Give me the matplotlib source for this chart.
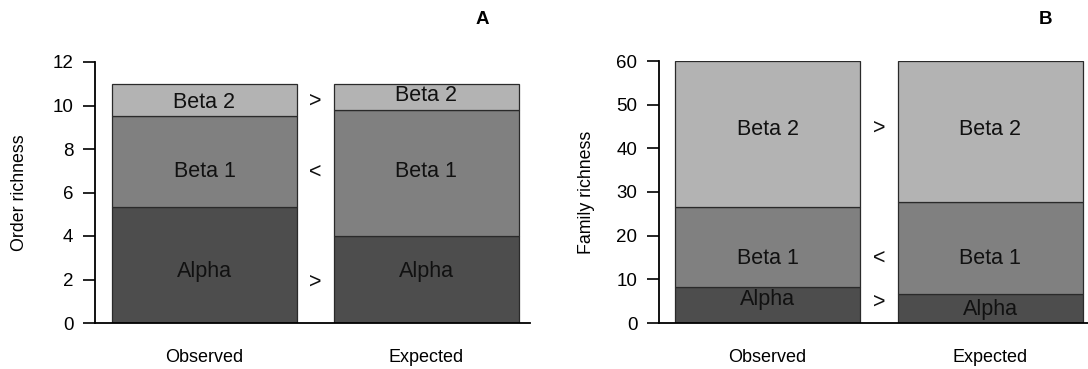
import matplotlib
matplotlib.use("Agg")
import matplotlib.pyplot as plt

plt.rcParams['font.family'] = ['Liberation Sans', 'DejaVu Sans']

groups = ["Observed", "Expected"]
components = ["Alpha", "Beta 1", "Beta 2"]

# Panel A: order richness (component values, stacked)
order_alpha = [5.33, 4.0]
order_beta1 = [4.17, 5.8]
order_beta2 = [1.5, 1.2]

# Panel B: family richness
family_alpha = [8.2, 6.6]
family_beta1 = [18.4, 21.0]
family_beta2 = [33.4, 32.4]

order_signs = [">", "<", ">"]       # alpha, beta1, beta2
family_signs = [">", "<", ">"]

# label heights (data units) as placed in the original figure
order_label_y = {"Observed": [2.35, 6.95, 10.16], "Expected": [2.35, 6.95, 10.45]}
order_sign_y = [1.9, 6.95, 10.2]
family_label_y = {"Observed": [5.3, 14.7, 44.4], "Expected": [3.2, 14.7, 44.4]}
family_sign_y = [4.8, 14.9, 44.6]

colors = ["#4d4d4d", "#808080", "#b3b3b3"]

W, H = 1088, 369
fig = plt.figure(figsize=(W / 100, H / 100), dpi=100)


def panel(rect, xlim, ylim, yticks, alpha, beta1, beta2, label_y, signs, sign_y, ylabel, letter, letter_x, ylab_x):
    ax = fig.add_axes(rect)
    xs = [0, 1.2]
    vals = [alpha, beta1, beta2]
    bottoms = [0, 0]
    for comp_vals, col in zip(vals, colors):
        ax.bar(xs, comp_vals, width=1.0, bottom=bottoms, color=col,
               edgecolor="#2a2a2a", linewidth=0.9, zorder=2)
        bottoms = [b + v for b, v in zip(bottoms, comp_vals)]
    for gi, g in enumerate(groups):
        for ci, comp in enumerate(components):
            ax.text(xs[gi], label_y[g][ci], comp, ha="center", va="center",
                    fontsize=15.5, color="#111111")
    for s, yy in zip(signs, sign_y):
        ax.text(0.6, yy, s, ha="center", va="center", fontsize=15.5, color="#111111")
    ax.set_xlim(*xlim)
    ax.set_ylim(*ylim)
    ax.set_yticks(yticks)
    ax.set_xticks(xs)
    ax.set_xticklabels(groups)
    ax.tick_params(axis="x", length=0, pad=19, labelsize=13)
    ax.tick_params(axis="y", length=8.5, width=1.2, pad=7, labelsize=13.5)
    for sp in ["top", "right"]:
        ax.spines[sp].set_visible(False)
    ax.spines["left"].set_linewidth(1.3)
    ax.spines["bottom"].set_linewidth(1.3)
    ax.spines["left"].set_bounds(ylim[0], ylim[1])
    ax.set_ylabel(ylabel, fontsize=12.8)
    ax.yaxis.set_label_coords(ylab_x, 0.5)
    fig.text(letter_x / W, 1 - 20 / H, letter, fontsize=13.5, fontweight="bold",
             ha="center", va="center")
    return ax


bottom = (H - 323) / H
top = (H - 62) / H
panel([95 / W, bottom, (530 - 95) / W, top - bottom], (-0.592, 1.76), (0, 12),
      [0, 2, 4, 6, 8, 10, 12], order_alpha, order_beta1, order_beta2,
      order_label_y, order_signs, order_sign_y, "Order richness", "A", 482, -0.155)

top_b = (H - 61) / H
panel([659 / W, bottom, (1088 - 659) / W, top_b - bottom], (-0.586, 1.727), (0, 60),
      [0, 10, 20, 30, 40, 50, 60], family_alpha, family_beta1, family_beta2,
      family_label_y, family_signs, family_sign_y, "Family richness", "B", 1045, -0.15)

fig.savefig("out.png", dpi=100)
